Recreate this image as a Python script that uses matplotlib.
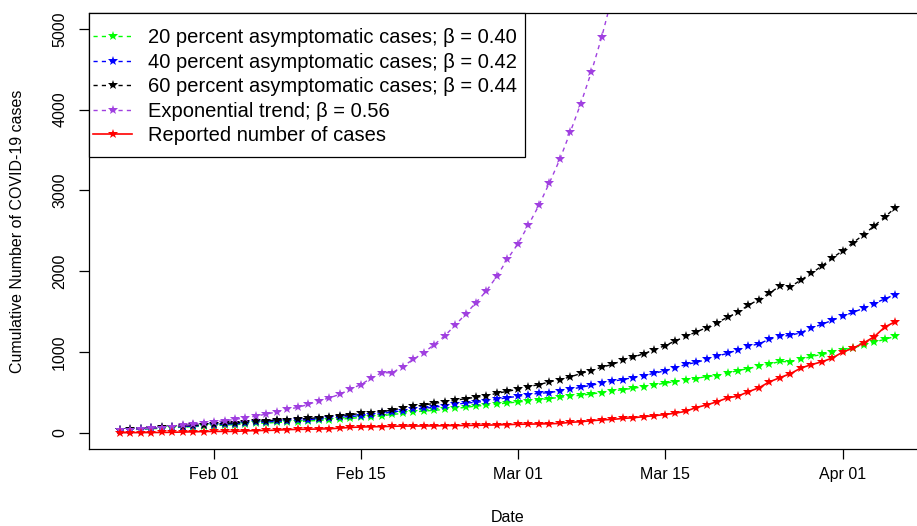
import numpy as np
import pandas as pd
import matplotlib
matplotlib.use("Agg")
import matplotlib.pyplot as plt
import matplotlib.dates as mdates
from matplotlib.patches import Rectangle

plt.rcParams["font.family"] = ["Liberation Sans", "DejaVu Sans"]

# --------------------------------------------------------------------------- #
# data: daily values, 23 Jan .. 06 Apr 2020                #
# --------------------------------------------------------------------------- #
dates = pd.date_range("2020-01-23", "2020-04-06", freq="D")

asym20 = [32, 38, 44, 50, 56, 63, 70, 77, 84,
          90, 96, 102, 108, 116, 122, 128, 134, 140, 147, 154, 162, 170, 178,
          191, 199, 211, 228, 240, 257, 270, 278, 290, 303, 315, 332, 340, 357, 369,
          382, 394, 410, 423, 440, 456, 464, 481, 498, 518, 535, 551, 572, 593,
          614, 634, 651, 672, 697, 709, 738, 771, 796, 825, 850, 883, 879, 908,
          945, 970, 995,
          1024, 1053, 1086, 1123, 1157, 1194]
asym40 = [35, 41, 48, 55, 62, 69, 77, 84, 92,
          99, 105, 112, 119, 128, 135, 142, 148, 155, 163, 171, 181, 191, 203,
          211, 224, 240, 257, 274, 290, 303, 319, 332, 352, 369, 377, 394, 415, 435,
          452, 473, 489, 498, 518, 539, 564, 589, 614, 639, 659, 684, 705, 738,
          767, 804, 846, 871, 908, 950, 983, 1028, 1070, 1103, 1157, 1194, 1206,
          1240, 1298, 1343, 1393,
          1443, 1493, 1542, 1600, 1658, 1712]
asym60 = [38, 45, 53, 60, 67, 76, 85, 93, 101,
          110, 116, 124, 132, 142, 150, 157, 163, 170, 178, 187, 198, 211, 224,
          240, 249, 261, 282, 307, 327, 344, 365, 382, 402, 423, 440, 460, 489, 514,
          539, 572, 597, 630, 659, 692, 735, 771, 813, 846, 896, 937, 979, 1028,
          1078, 1136, 1194, 1248, 1302, 1364, 1430, 1493, 1580, 1650, 1729, 1816,
          1808, 1891, 1974, 2065, 2164,
          2255, 2355, 2454, 2562, 2670, 2786]
# exponential trend leaves the plot after 09 Mar
expo = [33, 41, 50, 58, 66, 75, 91, 104, 120,
        137, 149, 166, 187, 207, 232, 261, 290, 315, 352, 398, 431, 478, 541,
        597, 676, 746, 742, 821, 908, 991, 1091, 1198, 1331, 1468, 1613, 1758,
        1940, 2150,
        2340, 2572, 2815, 3093, 3385, 3725, 4076, 4463, 4902, 5400]
reported = [1, 3, 3, 4, 5, 7, 10, 13, 16,
            18, 18, 18, 24, 28, 30, 33, 40, 43, 45, 47, 50, 58, 67, 72, 75, 77,
            81, 84, 84, 85, 86, 89, 90, 91, 93, 96, 98, 102,
            106, 108, 110, 112, 117, 130, 138, 150, 160, 166, 178, 187, 200, 212,
            226, 243, 266, 313, 345, 385, 432, 455, 509, 558, 631, 683, 732, 802,
            844, 879, 926,
            1000, 1049, 1114, 1189, 1309, 1375]

labels = ["20 percent asymptomatic cases; \u03b2 = 0.40",
          "40 percent asymptomatic cases; \u03b2 = 0.42",
          "60 percent asymptomatic cases; \u03b2 = 0.44",
          "Exponential trend; \u03b2 = 0.56",
          "Reported number of cases"]
colors = ["#00FF00", "#0000FF", "#000000", "#A040E0", "#FF0000"]

tick_dates = pd.to_datetime(["2020-02-01", "2020-02-15", "2020-03-01",
                             "2020-03-15", "2020-04-01"])

# --------------------------------------------------------------------------- #
W, H = 917, 526
AX_L, AX_R, AX_T, AX_B = 88.7, 926.2, 12.7, 449.0   # plot box in pixels
AW, AH = AX_R - AX_L, AX_B - AX_T


def px_to_axes(x, y):
    """pixel position (from top-left of the image) -> axes fraction"""
    return (x - AX_L) / AW, (AX_B - y) / AH


fig = plt.figure(figsize=(W / 100, H / 100), dpi=100)
ax = fig.add_axes([AX_L / W, (H - AX_B) / H, AW / W, AH / H])

series = [asym20, asym40, asym60, expo, reported]
for vals, lab, col in zip(series, labels, colors):
    solid = lab.startswith("Reported")
    ax.plot(dates[:len(vals)], vals, color=col,
            ls="-" if solid else (0, (3, 3)), lw=1.2 if solid else 1.0,
            marker="*", ms=7, mew=0, label=lab)

# R-style 4% padding on both axes
d0 = mdates.date2num(dates[0])
d1 = mdates.date2num(dates[-1])
pad = 0.04 * (d1 - d0)
ax.set_xlim(d0 - pad, d1 + pad)
ax.set_ylim(-200, 5200)

ax.set_xticks(tick_dates)
ax.xaxis.set_major_formatter(mdates.DateFormatter("%b %d"))
ax.set_yticks([0, 1000, 2000, 3000, 4000, 5000])
ax.tick_params(axis="both", direction="out", length=7, width=0.9,
               labelsize=11.5, colors="black")
ax.tick_params(axis="x", pad=6)
ax.tick_params(axis="y", pad=8.5)
for t in ax.get_yticklabels():
    t.set_rotation(90)
    t.set_va("center")
    t.set_ha("right")
for sp in ax.spines.values():
    sp.set_linewidth(0.9)
    sp.set_color("black")

ax.set_xlabel("Date", fontsize=11.5)
ax.xaxis.set_label_coords(0.5, px_to_axes(0, 518)[1])
ax.xaxis.label.set_va("center")
ax.set_ylabel("Cumulative Number of COVID-19 cases", fontsize=11.5)
ax.yaxis.set_label_coords(px_to_axes(17, 0)[0], 0.5)
ax.yaxis.label.set_va("center")

# legend: entries without frame, box drawn separately (R legend layout)
leg = ax.legend(loc="upper left", bbox_to_anchor=px_to_axes(93, 28.3),
                borderaxespad=0, borderpad=0, frameon=False,
                fontsize=14.5, numpoints=1, handlelength=1.94,
                handletextpad=0.78, labelspacing=0.275)
bx0, by0 = px_to_axes(AX_L, 156.7)
bx1, _ = px_to_axes(525, 0)
ax.add_patch(Rectangle((bx0, by0), bx1 - bx0, 1 - by0, transform=ax.transAxes,
                       facecolor="white", edgecolor="black", lw=0.9,
                       zorder=4.9, clip_on=False))
leg.set_zorder(5)

fig.savefig("out.png", dpi=100)
